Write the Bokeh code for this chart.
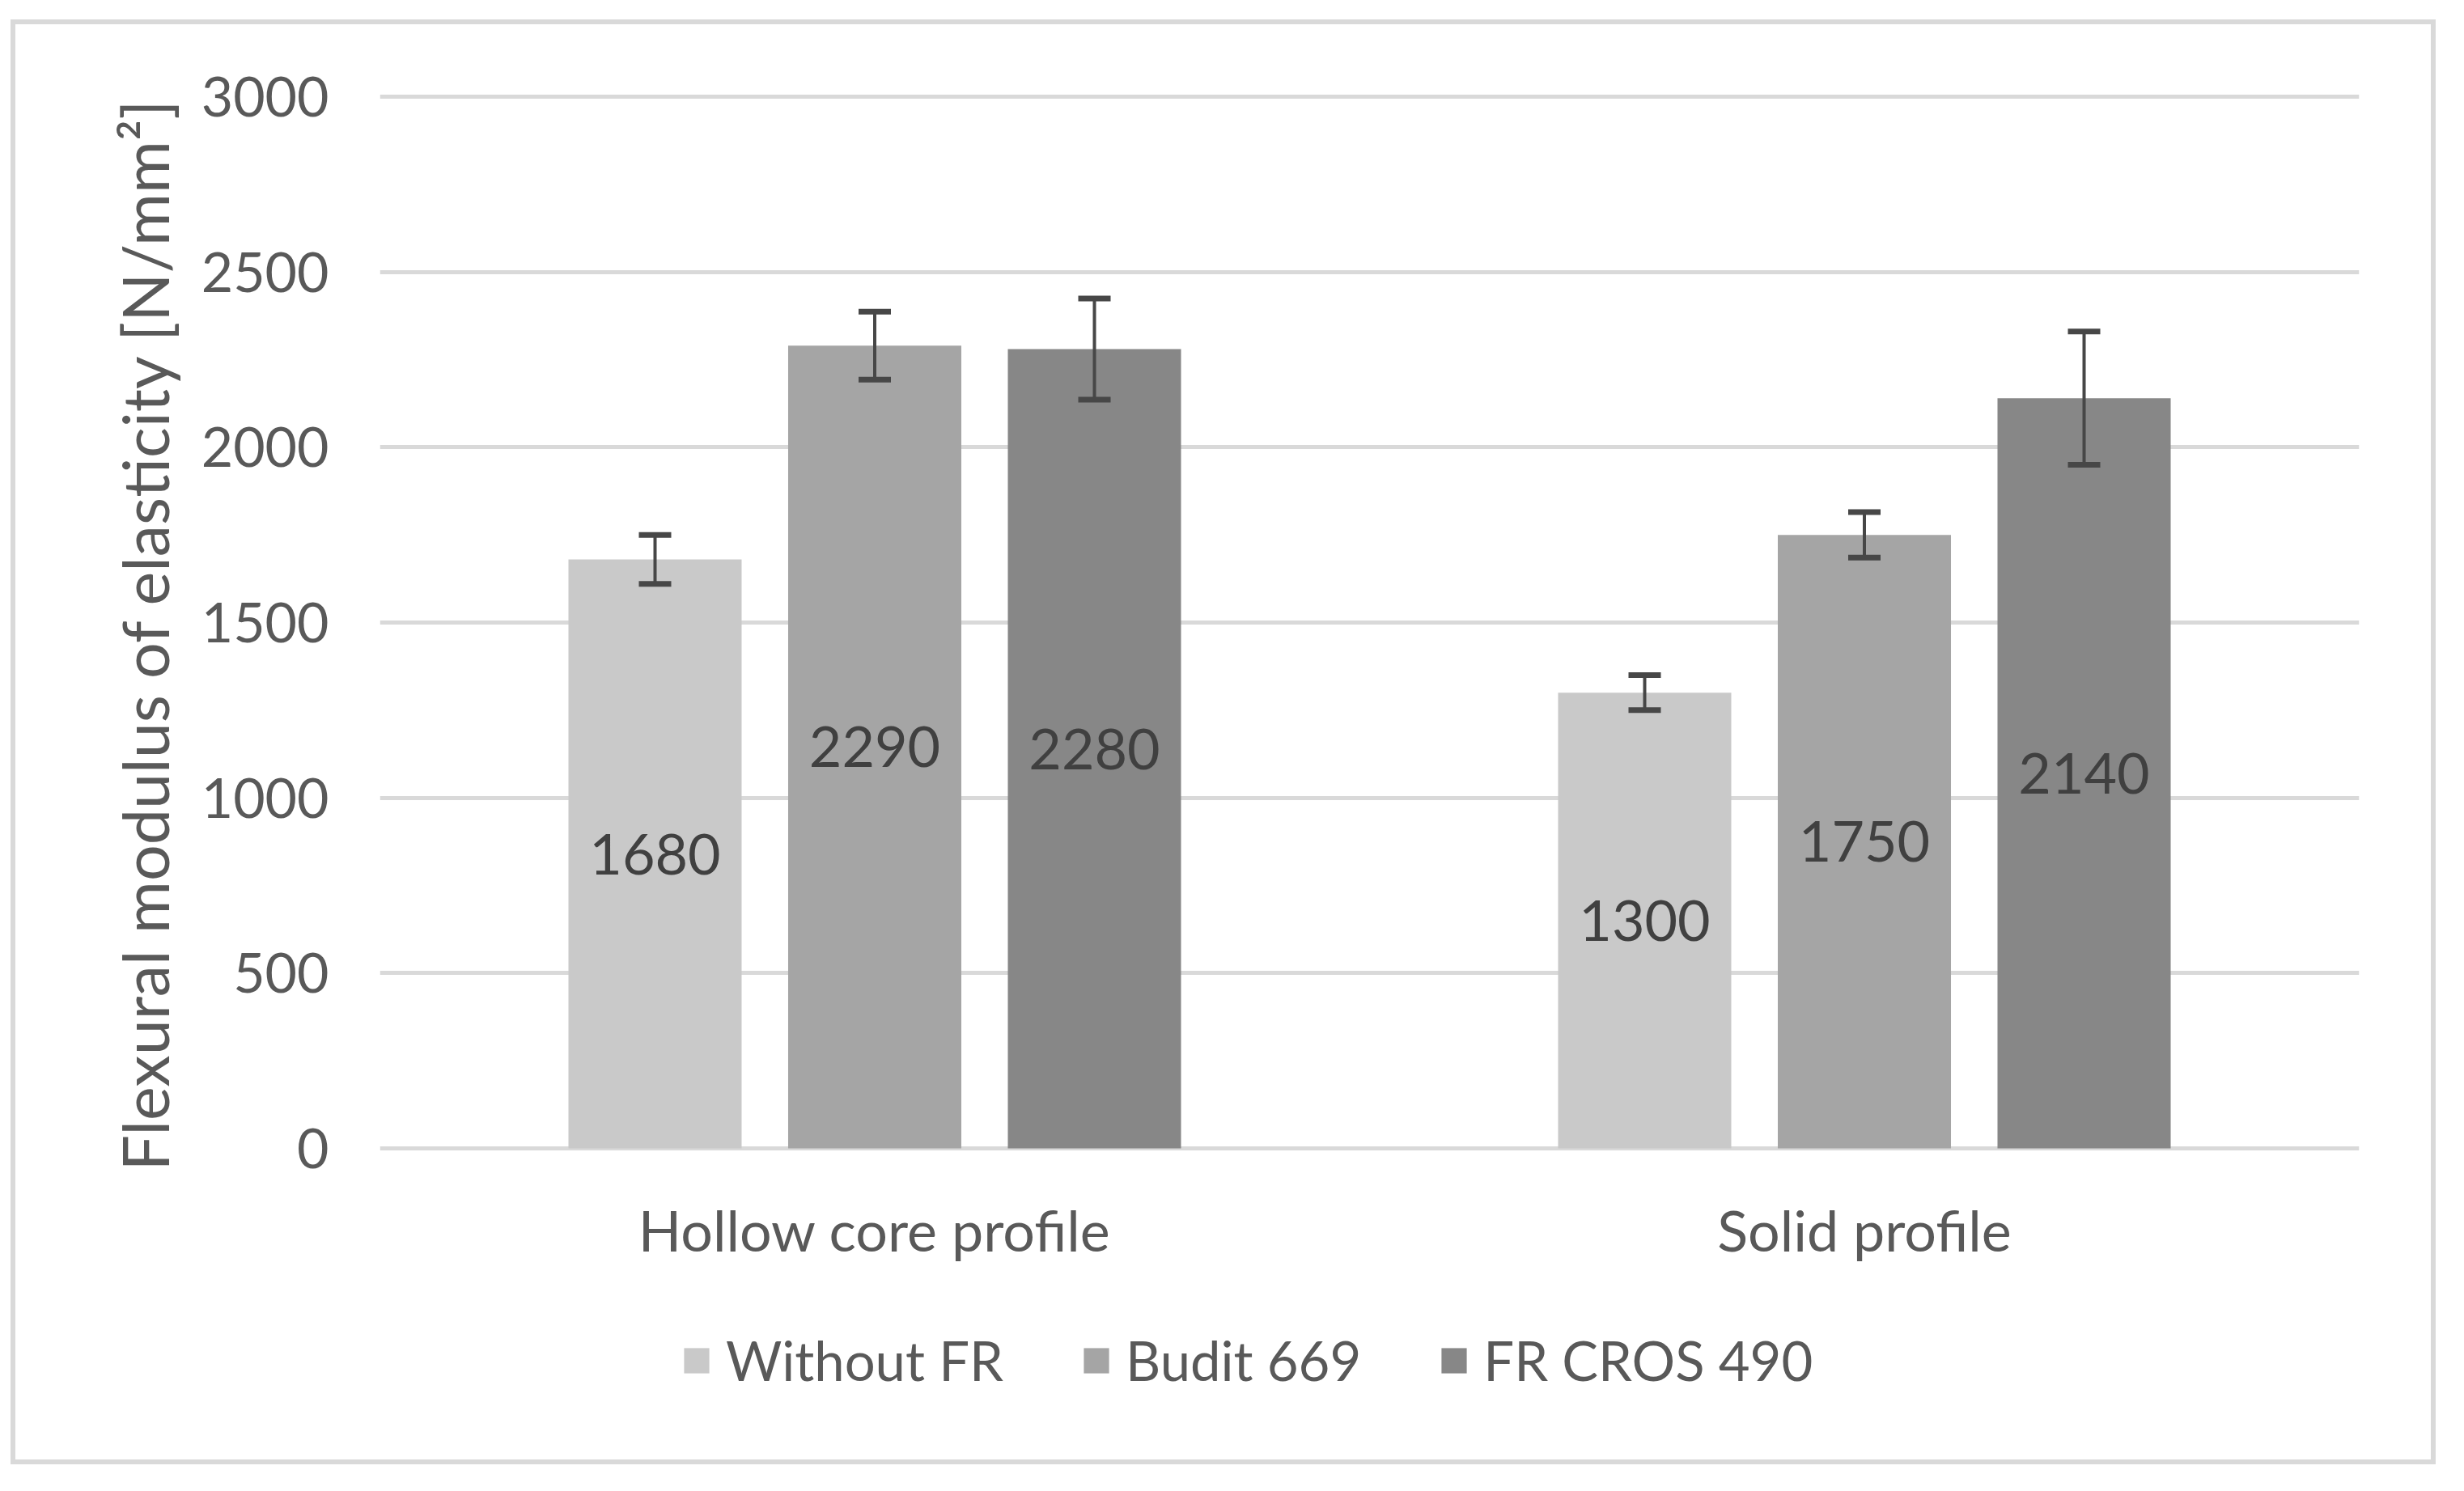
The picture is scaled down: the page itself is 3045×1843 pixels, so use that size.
from bokeh.plotting import figure
from bokeh.layouts import column
from bokeh.models import (ColumnDataSource, FactorRange, FixedTicker, Whisker, TeeHead,
                          Legend, LegendItem, Range1d, Title)
from bokeh.transform import dodge
from bokeh.embed import file_html
from bokeh.resources import INLINE
from bokeh.core.properties import value

# ---------------- data ----------------
categories = ["Hollow core profile", "Solid profile"]
series = ["Without FR", "Budit 669", "FR CROS 490"]
without_fr = [1680, 1300]
budit_669 = [2290, 1750]
fr_cros_490 = [2280, 2140]
err_without_fr = [70, 50]
err_budit_669 = [97, 65]
err_fr_cros_490 = [144, 190]
y_ticks = [0, 500, 1000, 1500, 2000, 2500, 3000]
y_title = "Flexural modulus of elasticity [N/mm\u00b2]"

# ---------------- style ----------------
colors = ["#c9c9c9", "#a5a5a5", "#878787"]
offsets = [-0.222, 0.0, 0.222]
FONT = "Lato"
TXT = "#595959"
CAT_LABEL_Y = -231      # where the category names sit, in axis units

p = figure(x_range=FactorRange(factors=categories, range_padding=0),
           y_range=Range1d(-856, 3030),
           width=2985, height=1774, output_backend="svg", toolbar_location=None,
           min_border_left=450, min_border_right=89, min_border_top=76,
           min_border_bottom=14)
p.outline_line_color = None
p.background_fill_color = "white"
p.border_fill_color = "white"

p.xgrid.grid_line_color = None
p.ygrid.grid_line_color = "#d9d9d9"
p.ygrid.grid_line_width = 5
p.xaxis.visible = False

p.yaxis.ticker = FixedTicker(ticks=y_ticks)
p.yaxis.axis_line_color = None
p.yaxis.major_tick_line_color = None
p.yaxis.minor_tick_line_color = None
p.yaxis.major_label_standoff = 57
p.yaxis.major_label_text_font = FONT
p.yaxis.major_label_text_font_size = "68px"
p.yaxis.major_label_text_color = TXT

title = Title(text=y_title, align="left", offset=343, vertical_align="middle",
              text_font=FONT, text_font_size="79px", text_font_style="normal",
              text_color=TXT, standoff=38)
p.add_layout(title, "left")

data = [without_fr, budit_669, fr_cros_490]
errs = [err_without_fr, err_budit_669, err_fr_cros_490]
items = []
for i, name in enumerate(series):
    vals = data[i]
    e = errs[i]
    src = ColumnDataSource(dict(
        cat=categories,
        top=vals,
        upper=[v + d for v, d in zip(vals, e)],
        lower=[v - d for v, d in zip(vals, e)],
        label_y=[v / 2 for v in vals],
        label=[str(v) for v in vals],
    ))
    xd = dodge("cat", offsets[i], range=p.x_range)
    r = p.vbar(x=xd, top="top", bottom=0, width=0.175, source=src,
               fill_color=colors[i], line_color=None)
    w = Whisker(source=src, base=dodge("cat", offsets[i], range=p.x_range),
                upper="upper", lower="lower", level="overlay",
                line_color="#474747", line_width=4,
                upper_head=TeeHead(size=40, line_color="#474747", line_width=7),
                lower_head=TeeHead(size=40, line_color="#474747", line_width=7))
    p.add_layout(w)
    p.text(x=dodge("cat", offsets[i], range=p.x_range), y="label_y", text="label",
           source=src, text_align="center", text_baseline="middle",
           text_font=value(FONT), text_font_size="70px", text_color="#404040")
    items.append(LegendItem(label=name, renderers=[r]))

# category names under the bars, placed through the categorical x scale
cat_src = ColumnDataSource(dict(cat=categories, name=categories))
p.text(x="cat", y=CAT_LABEL_Y, text="name", source=cat_src,
       text_align="center", text_baseline="middle",
       text_font=value(FONT), text_font_size="70px", text_color=TXT)

legend = Legend(items=items, orientation="horizontal", location=(372, 69),
                glyph_width=39, glyph_height=39, label_standoff=17, spacing=95,
                padding=0, margin=0, border_line_color=None,
                background_fill_alpha=0,
                label_text_font=FONT, label_text_font_size="67px",
                label_text_color=TXT)
p.add_layout(legend)

layout = column(p, styles={"border": "6px solid #d9d9d9",
                           "margin-left": "13px", "margin-top": "24px"})

open("out.html", "w").write(file_html(layout, INLINE))
